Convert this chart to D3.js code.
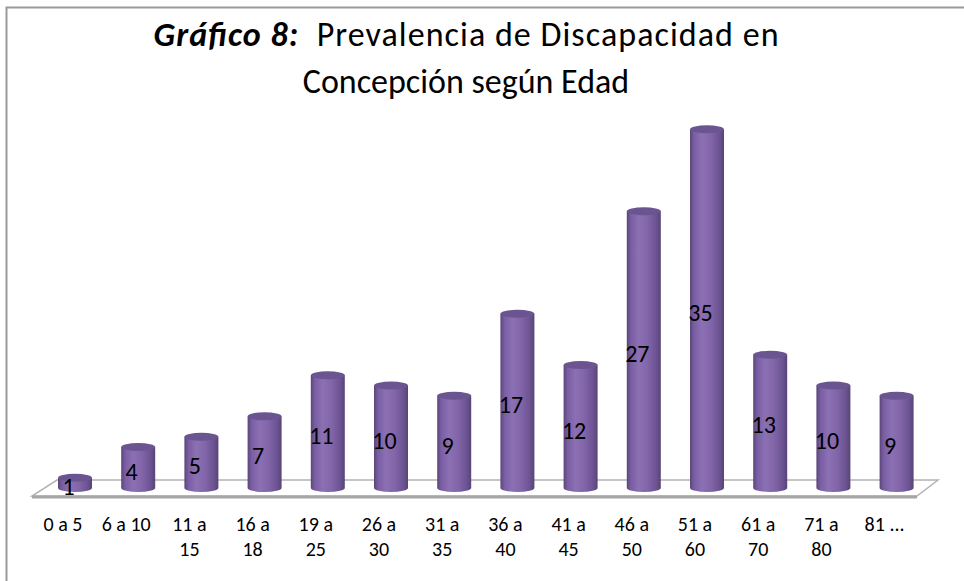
<!DOCTYPE html>
<html>
<head>
<meta charset="utf-8">
<script src="https://cdn.jsdelivr.net/npm/d3@7"></script>
<style>
  body { margin: 0; background: #fff; }
  text { font-family: Carlito, Calibri, "Liberation Sans", Arial, sans-serif; fill: #000; }
</style>
</head>
<body>
<div id="chart"></div>
<script>
// Chart data
var categories = ["0 a 5", "6 a 10", "11 a 15", "16 a 18", "19 a 25", "26 a 30", "31 a 35",
                  "36 a 40", "41 a 45", "46 a 50", "51 a 60", "61 a 70", "71 a 80", "81 ..."];
var tickLines = [["0 a 5"], ["6 a 10"], ["11 a", "15"], ["16 a", "18"], ["19 a", "25"], ["26 a", "30"], ["31 a", "35"],
                 ["36 a", "40"], ["41 a", "45"], ["46 a", "50"], ["51 a", "60"], ["61 a", "70"], ["71 a", "80"], ["81 ..."]];
var values = [1, 4, 5, 7, 11, 10, 9, 17, 12, 27, 35, 13, 10, 9];

var width = 964;
var height = 581;

var svg = d3.select("#chart")
    .append("svg")
    .attr("width", width)
    .attr("height", height);

// Outer frame (only top and left visible)
svg.append("path")
    .attr("d", "M6.5," + height + " L6.5,7.5 L" + width + ",7.5")
    .attr("fill", "none")
    .attr("stroke", "#9a9a9a")
    .attr("stroke-width", 2);

// Title
var title = svg.append("text")
    .attr("x", 466)
    .attr("y", 46)
    .attr("text-anchor", "middle")
    .attr("textLength", 625)
    .attr("lengthAdjust", "spacing")
    .style("font-size", "34px");
title.append("tspan").style("font-weight", "bold").style("font-style", "italic").text("Gráfico 8:");
title.append("tspan").attr("xml:space", "preserve").text("  Prevalencia de Discapacidad en");

svg.append("text")
    .attr("x", 466)
    .attr("y", 93)
    .attr("text-anchor", "middle")
    .style("font-size", "34px")
    .text("Concepción según Edad");

// Scales
var x = d3.scaleBand()
    .domain(categories)
    .range([43.4, 928.2]);

var y = d3.scaleLinear()
    .domain([0, 35])
    .range([488, 129.25]);

var labelShift = -12;   // category labels sit on the front edge of the floor

// Floor
svg.append("polygon")
    .attr("points", "57,480 938,480 917,496 32,496")
    .attr("fill", "#ffffff")
    .attr("stroke", "#b3b3b3")
    .attr("stroke-width", 1.5);
svg.append("rect")
    .attr("x", 32).attr("y", 495.5)
    .attr("width", 885).attr("height", 3)
    .attr("fill", "#a6a6a6");

// Gradient for cylinders
var defs = svg.append("defs");
var grad = defs.append("linearGradient")
    .attr("id", "cyl")
    .attr("x1", "0%").attr("x2", "100%")
    .attr("y1", "0%").attr("y2", "0%");
grad.append("stop").attr("offset", "0%").attr("stop-color", "#5a4679");
grad.append("stop").attr("offset", "12%").attr("stop-color", "#7a5ea3");
grad.append("stop").attr("offset", "35%").attr("stop-color", "#8c70b4");
grad.append("stop").attr("offset", "60%").attr("stop-color", "#8366aa");
grad.append("stop").attr("offset", "88%").attr("stop-color", "#6a5290");
grad.append("stop").attr("offset", "100%").attr("stop-color", "#574474");

var barW = 34;
var ry = 4;

var bars = svg.selectAll("g.bar")
    .data(values)
    .enter()
    .append("g")
    .attr("class", "bar");

bars.append("path")
    .attr("d", function (d, i) {
        var cx = x(categories[i]) + x.bandwidth() / 2;
        var l = cx - barW / 2, r = cx + barW / 2;
        var top = y(d), bot = y(0);
        return "M" + l + "," + top +
            " L" + l + "," + bot +
            " A" + (barW / 2) + "," + ry + " 0 0 0 " + r + "," + bot +
            " L" + r + "," + top + " Z";
    })
    .attr("fill", "url(#cyl)");

bars.append("ellipse")
    .attr("cx", function (d, i) { return x(categories[i]) + x.bandwidth() / 2; })
    .attr("cy", function (d) { return y(d); })
    .attr("rx", barW / 2)
    .attr("ry", ry)
    .attr("fill", "#6b5591");

// Value labels
bars.append("text")
    .attr("x", function (d, i) { return x(categories[i]) + x.bandwidth() / 2 - 6.5; })
    .attr("y", function (d) { return (y(d) + y(0)) / 2 + 12; })
    .attr("text-anchor", "middle")
    .style("font-size", "24px")
    .text(function (d) { return d; });

// Category labels
var ticks = svg.selectAll("text.tick")
    .data(categories)
    .enter()
    .append("text")
    .attr("class", "tick")
    .attr("text-anchor", "middle")
    .style("font-size", "20px");

ticks.selectAll("tspan")
    .data(function (d, i) {
        return tickLines[i].map(function (t) { return { t: t, c: d }; });
    })
    .enter()
    .append("tspan")
    .attr("x", function (d) { return x(d.c) + x.bandwidth() / 2 + labelShift; })
    .attr("y", function (d, j) { return 531 + j * 25; })
    .text(function (d) { return d.t; });
</script>
</body>
</html>
